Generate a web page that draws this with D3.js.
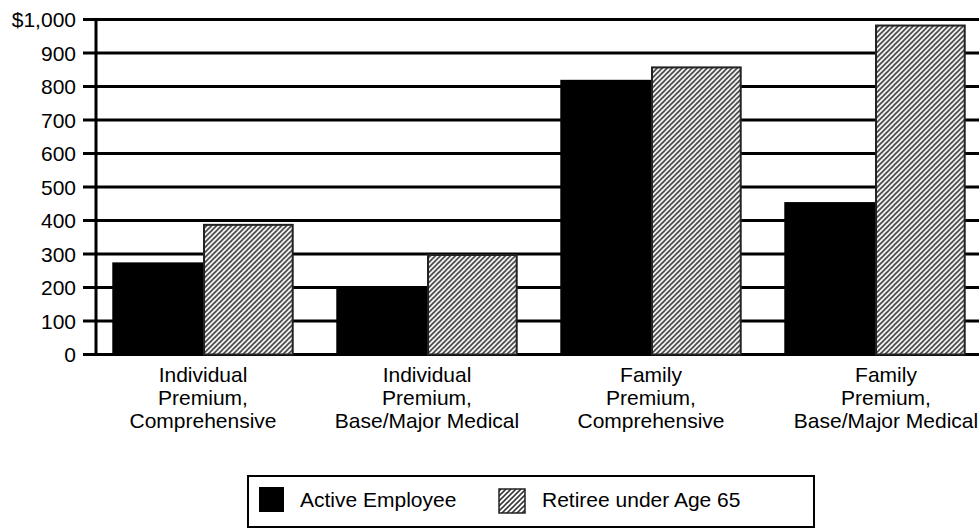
<!DOCTYPE html>
<html>
<head>
<meta charset="utf-8">
<script src="https://cdn.jsdelivr.net/npm/d3@7"></script>
<style>
  html, body { margin: 0; padding: 0; background: #fff; }
  svg { display: block; font-family: "Liberation Sans", Arial, sans-serif; }
</style>
</head>
<body>
<svg id="chart" width="979" height="529"></svg>
<script>
// Monthly premiums by coverage type
const categories = [
  ["Individual", "Premium,", "Comprehensive"],
  ["Individual", "Premium,", "Base/Major Medical"],
  ["Family", "Premium,", "Comprehensive"],
  ["Family", "Premium,", "Base/Major Medical"]
];
const seriesNames = ["Active Employee", "Retiree under Age 65"];
const activeEmployee = [275, 200, 820, 455];
const retireeUnder65 = [390, 300, 860, 985];
const yTicks = [0, 100, 200, 300, 400, 500, 600, 700, 800, 900, 1000];

const svg = d3.select("#chart");
const W = 979;
const FONT = 21;

// hatch pattern for the retiree series
const defs = svg.append("defs");
const pat = defs.append("pattern")
  .attr("id", "hatch")
  .attr("patternUnits", "userSpaceOnUse")
  .attr("width", 5).attr("height", 5);
pat.append("rect").attr("width", 5).attr("height", 5).attr("fill", "#fff");
pat.append("path")
  .attr("d", "M-1,1 l2,-2 M0,5 l5,-5 M4,6 l2,-2")
  .attr("stroke", "#3a3a3a").attr("stroke-width", 1.6);

const catKeys = categories.map(c => c.join(" "));
const x0 = d3.scaleBand().domain(catKeys).range([91, 987])
  .paddingInner(0.19).paddingOuter(0.095);
const x1 = d3.scaleBand().domain(seriesNames).range([0, x0.bandwidth()]);
const y = d3.scaleLinear().domain([0, 1000]).range([354.5, 19.5]);

// gridlines with tick stubs left of the axis
svg.append("g").selectAll("line").data(yTicks).join("line")
  .attr("x1", 83).attr("x2", W)
  .attr("y1", d => y(d)).attr("y2", d => y(d))
  .attr("stroke", "#000").attr("stroke-width", 3);

// y tick labels
svg.append("g").selectAll("text").data(yTicks).join("text")
  .attr("x", 76).attr("y", d => y(d)).attr("dy", "0.36em")
  .attr("text-anchor", "end")
  .attr("font-size", FONT)
  .text(d => d === 1000 ? "$1,000" : d3.format(",")(d));

// vertical axis line
svg.append("line")
  .attr("x1", 96).attr("x2", 96)
  .attr("y1", y(1000) - 1.5).attr("y2", y(0) + 1.5)
  .attr("stroke", "#000").attr("stroke-width", 3);

// bars
const groups = svg.append("g").selectAll("g").data(catKeys).join("g")
  .attr("transform", d => `translate(${x0(d)},0)`);

groups.append("rect")
  .attr("x", x1(seriesNames[0]))
  .attr("width", x1.bandwidth())
  .attr("y", (d, i) => y(activeEmployee[i]))
  .attr("height", (d, i) => y(0) - y(activeEmployee[i]))
  .attr("fill", "#000");

groups.append("rect")
  .attr("x", x1(seriesNames[1]) + 1)
  .attr("width", x1.bandwidth() - 2)
  .attr("y", (d, i) => y(retireeUnder65[i]) + 1)
  .attr("height", (d, i) => y(0) - y(retireeUnder65[i]) - 1)
  .attr("fill", "url(#hatch)")
  .attr("stroke", "#222").attr("stroke-width", 2);

// category labels; the last one runs off the right edge and is nudged right
const labels = svg.append("g").selectAll("text").data(categories).join("text")
  .attr("text-anchor", "middle")
  .attr("font-size", FONT)
  .attr("transform", (d, i) => {
    const cx = x0(catKeys[i]) + x0.bandwidth() / 2 + (i === categories.length - 1 ? 11 : 0);
    return `translate(${cx},382)`;
  });
labels.selectAll("tspan").data(d => d).join("tspan")
  .attr("x", 0).attr("y", (d, i) => i * 23)
  .text(d => d);

// legend
const lg = svg.append("g");
lg.append("rect")
  .attr("x", 248).attr("y", 476).attr("width", 566).attr("height", 51)
  .attr("fill", "#fff").attr("stroke", "#000").attr("stroke-width", 2);
lg.append("rect").attr("x", 259).attr("y", 487).attr("width", 25).attr("height", 25)
  .attr("fill", "#000");
lg.append("text").attr("x", 300).attr("y", 507).attr("font-size", FONT).text(seriesNames[0]);
lg.append("rect").attr("x", 499).attr("y", 489).attr("width", 26).attr("height", 24)
  .attr("fill", "url(#hatch)").attr("stroke", "#222").attr("stroke-width", 1.5);
lg.append("text").attr("x", 542).attr("y", 507).attr("font-size", FONT).text(seriesNames[1]);
</script>
</body>
</html>
